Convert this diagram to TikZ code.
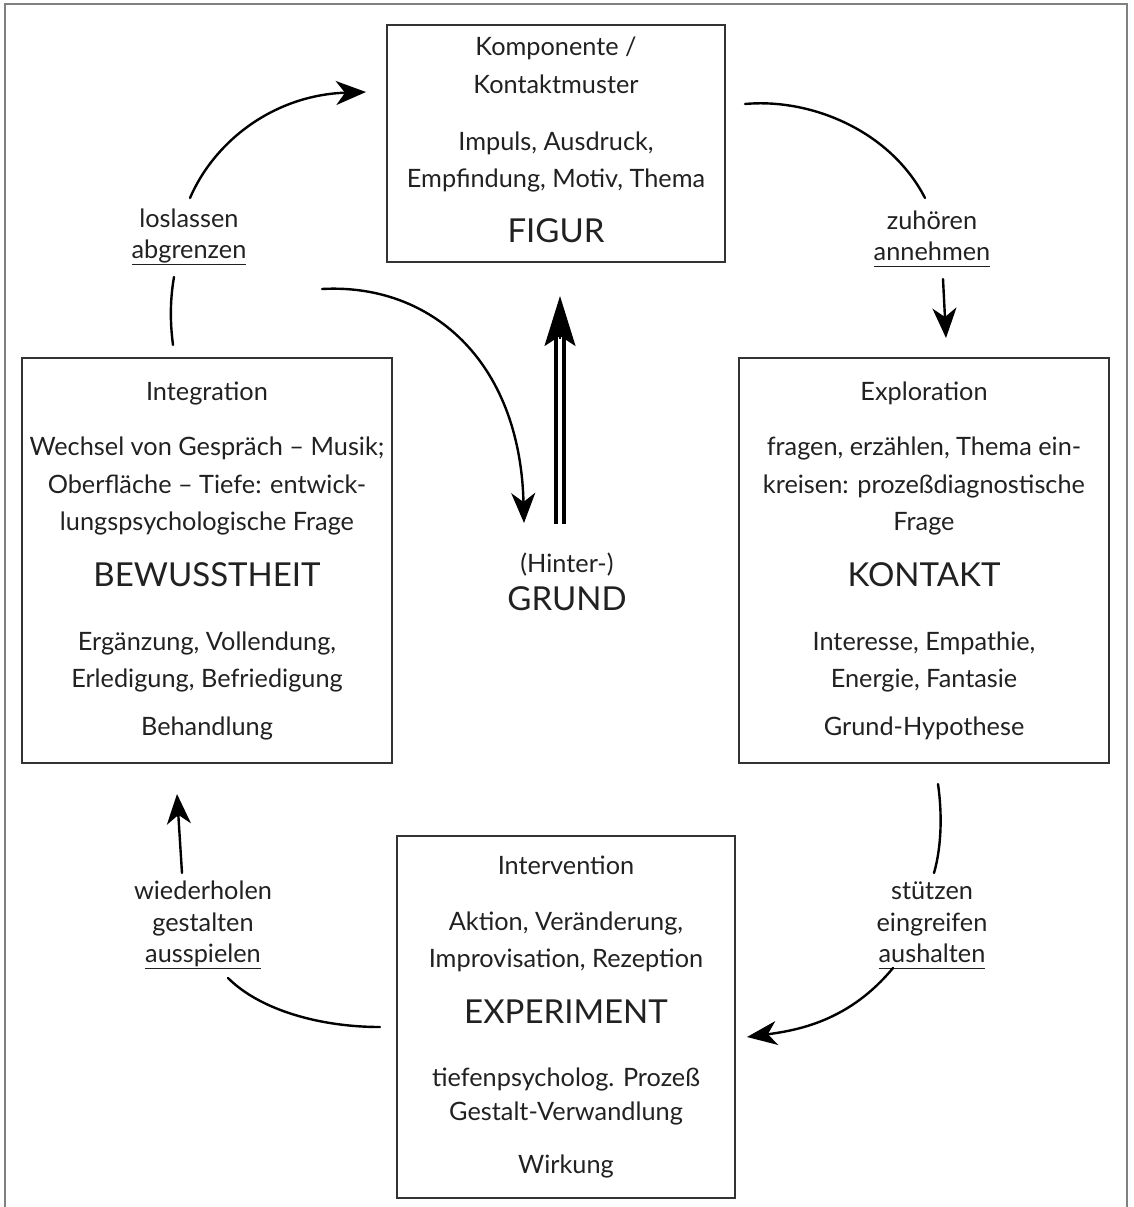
\documentclass[tikz,border=0pt]{standalone}
\usepackage{fontspec}
\setmainfont{Lato}
\usetikzlibrary{arrows.meta}
\definecolor{ink}{gray}{0.13}
\definecolor{framegray}{gray}{0.5}
\newcommand{\myul}[1]{\underline{#1\vphantom{g}}}
\tikzset{
  txt/.style={anchor=base, inner sep=0pt, text=ink, font=\fontsize{25.3}{29}\selectfont},
  big/.style={anchor=base, inner sep=0pt, text=ink, font=\fontsize{33}{37}\selectfont},
  boxstyle/.style={draw=black!80, line width=1.3pt, inner sep=0pt},
  flow/.style={line width=2.4pt, line cap=round},
  tip/.style={-{Stealth[length=30pt,width=24pt,inset=9pt]}}
}
\begin{document}
\begin{tikzpicture}[x=1pt,y=-1pt]
\useasboundingbox (0,0) rectangle (1133,1207);
% outer frame (open at bottom)
\draw[framegray, line width=1.6pt] (5,1207) -- (5,4) -- (1127,4) -- (1127,1207);

% boxes
\node[boxstyle, minimum width=338pt, minimum height=237pt] (figbox) at (556,143.5) {};
\node[boxstyle, minimum width=370pt, minimum height=405pt] (bewbox) at (207,560.5) {};
\node[boxstyle, minimum width=370pt, minimum height=405pt] (konbox) at (924,560.5) {};
\node[boxstyle, minimum width=338pt, minimum height=362pt] (expbox) at (566,1017) {};

% FIGUR box text
\node[txt] (f1) at (556,56) {Komponente /};
\node[txt] (f2) at (556,93) {Kontaktmuster};
\node[txt] (f3) at (556,150) {Impuls, Ausdruck,};
\node[txt] (f4) at (556,187) {Empfindung, Motiv, Thema};
\node[big] (f5) at (556,242) {FIGUR};

% BEWUSSTHEIT box text
\node[txt] (b1) at (207,400) {Integration};
\node[txt] (b2) at (207,455) {Wechsel von Gespräch – Musik;};
\node[txt] (b3) at (207,493) {Oberfläche – Tiefe: entwick-};
\node[txt] (b4) at (207,530) {lungspsychologische Frage};
\node[big] (b5) at (207,586) {BEWUSSTHEIT};
\node[txt] (b6) at (207,650) {Ergänzung, Vollendung,};
\node[txt] (b7) at (207,687) {Erledigung, Befriedigung};
\node[txt] (b8) at (207,735) {Behandlung};

% KONTAKT box text
\node[txt] (k1) at (924,400) {Exploration};
\node[txt] (k2) at (924,455) {fragen, erzählen, Thema ein-};
\node[txt] (k3) at (924,493) {kreisen: prozeßdiagnostische};
\node[txt] (k4) at (924,530) {Frage};
\node[big] (k5) at (924,586) {KONTAKT};
\node[txt] (k6) at (924,650) {Interesse, Empathie,};
\node[txt] (k7) at (924,687) {Energie, Fantasie};
\node[txt] (k8) at (924,735) {Grund-Hypothese};

% EXPERIMENT box text
\node[txt] (e1) at (566,874) {Intervention};
\node[txt] (e2) at (566,930) {Aktion, Veränderung,};
\node[txt] (e3) at (566,967) {Improvisation, Rezeption};
\node[big] (e4) at (566,1023) {EXPERIMENT};
\node[txt] (e5) at (566,1086) {tiefenpsycholog. Prozeß};
\node[txt] (e6) at (566,1120) {Gestalt-Verwandlung};
\node[txt] (e7) at (566,1173) {Wirkung};

% GRUND
\node[txt] (g1) at (567,572) {(Hinter-)};
\node[big] (g2) at (567,610) {GRUND};

% labels
\node[txt] (l1) at (189,227) {loslassen};
\node[txt] (l2) at (189,258) {\myul{abgrenzen}};
\node[txt] (r1) at (932,229) {zuhören};
\node[txt] (r2) at (932,260) {\myul{annehmen}};
\node[txt] (s1) at (932,899) {stützen};
\node[txt] (s2) at (932,931) {eingreifen};
\node[txt] (s3) at (932,962) {\myul{aushalten}};
\node[txt] (w1) at (203,899) {wiederholen};
\node[txt] (w2) at (203,931) {gestalten};
\node[txt] (w3) at (203,962) {\myul{ausspielen}};

% connector coordinates
\coordinate (a1s) at (190,198);
\coordinate (a1e) at (366,92);
\coordinate (a1bs) at (173,345);
\coordinate (a1be) at (174,277);
\coordinate (a2s) at (745,104);
\coordinate (a2e) at (925,198);
\coordinate (a2bs) at (943,279);
\coordinate (a2be) at (946,338);
\coordinate (a3s) at (938,784);
\coordinate (a3e) at (934,873);
\coordinate (a3bs) at (893,968);
\coordinate (a3be) at (747,1037);
\coordinate (a4s) at (380,1027);
\coordinate (a4e) at (228,978);
\coordinate (a4bs) at (182,873);
\coordinate (a4be) at (177,794);
\coordinate (a5s) at (322,289);
\coordinate (a5e) at (524,523);
\coordinate (gs) at (560,524);
\coordinate (gm) at (560,343);
\coordinate (gt) at (560,296);

% connectors
\draw[flow, tip] (a1s) .. controls (215,140) and (275,95) .. (a1e);
\draw[flow] (a1bs) .. controls (170,322) and (170,300) .. (a1be);
\draw[flow] (a2s) .. controls (810,98) and (890,130) .. (a2e);
\draw[flow, tip] (a2bs) -- (a2be);
\draw[flow] (a3s) .. controls (942,812) and (942,845) .. (a3e);
\draw[flow, tip] (a3bs) .. controls (850,1020) and (800,1030) .. (a3be);
\draw[flow] (a4s) .. controls (320,1027) and (260,1010) .. (a4e);
\draw[flow, tip] (a4bs) -- (a4be);
\draw[flow, tip] (a5s) .. controls (430,283) and (520,360) .. (a5e);
% double-shaft arrow to FIGUR
\draw[line width=3.6pt, double=white, double distance=4pt, draw=black] (gs) -- ([yshift=6pt]gm);
\draw[line width=2pt, -{Stealth[length=50pt,width=31pt,inset=10pt]}] ([yshift=4pt]gm) -- (gt);
\end{tikzpicture}
\end{document}
